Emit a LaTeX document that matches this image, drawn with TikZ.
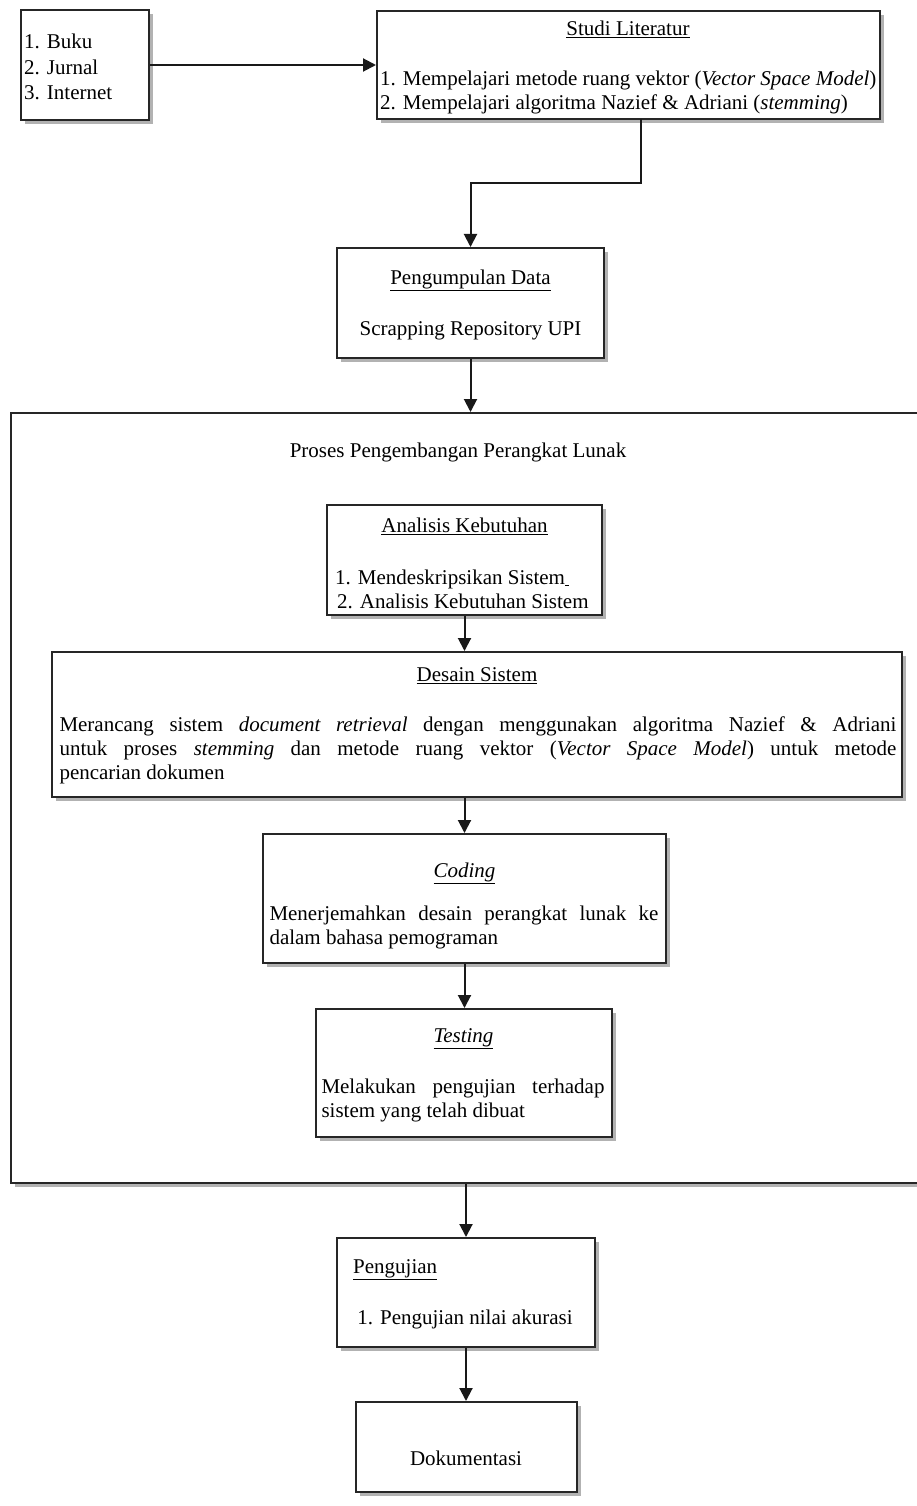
\documentclass[tikz,border=0pt]{standalone}
\usepackage{fontspec}
\setmainfont{Liberation Serif}
\usetikzlibrary{arrows.meta,shadows}
\tikzset{
  box/.style={draw=black!85, line width=2pt, fill=white, inner sep=0pt,
    drop shadow={shadow xshift=4pt, shadow yshift=-4pt, fill=black!30, opacity=1}},
  txt/.style={inner sep=0pt, font=\fontsize{21}{24}\selectfont},
  arr/.style={draw=black!90, line width=2pt, -{Triangle[length=13pt,width=13pt]}},
}
\hyphenpenalty=10000
\exhyphenpenalty=10000
\begin{document}
\begin{tikzpicture}[x=1pt,y=-1pt]
\useasboundingbox (0,0) rectangle (917,1506);
% boxes
\node[box, minimum width=128pt, minimum height=110pt] (src) at (85,65) {};
\node[box, minimum width=503pt, minimum height=108pt] (studi) at (628.5,65) {};
\node[box, minimum width=267pt, minimum height=110pt] (kumpul) at (470.5,303) {};
\node[box, minimum width=911pt, minimum height=770pt] (proses) at (466.5,798) {};
\node[box, minimum width=275pt, minimum height=110pt] (analisis) at (464.5,560) {};
\node[box, minimum width=850pt, minimum height=145pt] (desain) at (477,724.5) {};
\node[box, minimum width=403pt, minimum height=129pt] (coding) at (464.5,898.5) {};
\node[box, minimum width=296pt, minimum height=128pt] (testing) at (463.5,1073) {};
\node[box, minimum width=258pt, minimum height=109pt] (uji) at (466,1292.5) {};
\node[box, minimum width=221pt, minimum height=90pt] (dok) at (466,1447) {};
% texts
\node[txt, anchor=west, align=left, font=\fontsize{21}{25.5}\selectfont] (srctxt) at (24,67) {1. Buku\\2. Jurnal\\3. Internet};
\node[txt] (studititle) at (628,29) {\underline{Studi Literatur}};
\node[txt, anchor=west, align=left] (studitxt) at (380,92) {1. Mempelajari metode ruang vektor (\textit{Vector Space Model})\\2. Mempelajari algoritma Nazief \& Adriani (\textit{stemming})};
\node[txt] (kumpultitle) at (470.5,280) {\underline{Pengumpulan Data}};
\node[txt] (kumpultxt) at (470.5,331) {Scrapping Repository UPI};
\node[txt] (prosestitle) at (458,452) {Proses Pengembangan Perangkat Lunak};
\node[txt, anchor=west, align=left] (analisistxt) at (335,589) {1. Mendeskripsikan Sistem\underline{\,}\\\hspace{2pt}2. Analisis Kebutuhan Sistem};
\node[txt] (analisistitle) at (464.5,526) {\underline{Analisis Kebutuhan}};
\node[txt] (desaintitle) at (477,676) {\underline{Desain Sistem}};
\node[txt, text width=837pt, align=justify] (desaintxt) at (478,750) {Merancang sistem \textit{document retrieval} dengan menggunakan algoritma Nazief \& Adriani\linebreak untuk proses \textit{stemming} dan metode ruang vektor (\textit{Vector Space Model}) untuk metode\linebreak pencarian dokumen};
\node[txt] (codingtitle) at (464.5,873) {\underline{\textit{Coding}}};
\node[txt, text width=389pt, align=justify] (codingtxt) at (464,927) {Menerjemahkan desain perangkat lunak ke\linebreak dalam bahasa pemograman};
\node[txt] (testingtitle) at (463.5,1039) {\underline{\textit{Testing}}};
\node[txt, text width=283pt, align=justify] (testingtxt) at (463,1100) {Melakukan pengujian terhadap\linebreak sistem yang telah dibuat};
\node[txt, anchor=west] (ujititle) at (353,1270) {\underline{Pengujian}};
\node[txt] (ujitxt) at (465,1319) {1. Pengujian nilai akurasi};
\node[txt] (doktxt) at (466,1458) {Dokumentasi};
% connectors
\coordinate (sout) at (641,119);
\coordinate (elbow) at (641,183);
\draw[arr] (src.east) -- (src.east -| studi.west);
\draw[arr] (sout) -- (elbow) -| (kumpul.north);
\draw[arr] (kumpul.south) -- (kumpul.south |- proses.north);
\draw[arr] (analisis.south) -- (analisis.south |- desain.north);
\draw[arr] (coding.north |- desain.south) -- (coding.north);
\draw[arr] (coding.south) -- (coding.south |- testing.north);
\draw[arr] (uji.north |- proses.south) -- (uji.north);
\draw[arr] (uji.south) -- (dok.north);
\end{tikzpicture}
\end{document}
